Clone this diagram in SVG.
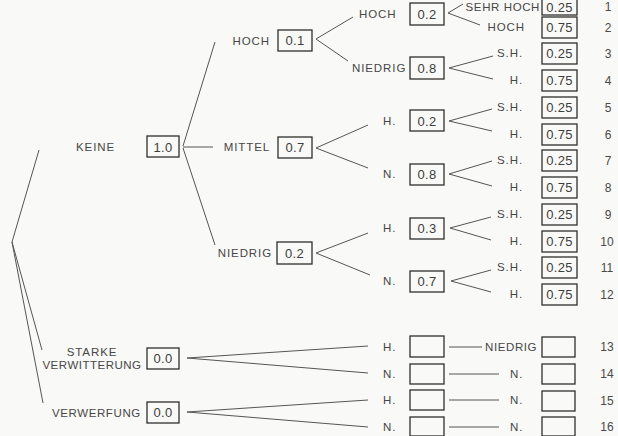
<svg xmlns="http://www.w3.org/2000/svg" width="618" height="436" viewBox="0 0 618 436">
<style>
.bg{fill:#f9f9f7}
.lbl{font-family:"Liberation Sans",Arial,sans-serif;font-size:11.5px;letter-spacing:0.9px;fill:#474747}
.num{font-family:"Liberation Sans",Arial,sans-serif;font-size:13px;letter-spacing:0.3px;fill:#3d3d3d;text-anchor:middle}
.idx{font-family:"Liberation Sans",Arial,sans-serif;font-size:12px;fill:#4a4a4a;text-anchor:middle}
.box{fill:none;stroke:#2e2e2e;stroke-width:1.3}
.ln{fill:none;stroke:#555;stroke-width:1}
.end{text-anchor:end}
.mid{text-anchor:middle}
</style>
<rect class="bg" x="0" y="0" width="618" height="436"/>

<g id="connectors">
  <path class="ln" d="M39,150 L12,242 L42,350 M12,242 L43,403"/>
  <path class="ln" d="M183,146 L215,42 M183,147 L213,147 M183,148 L215,245"/>
  <path class="ln" d="M353,17 L316,39 L348,61"/>
  <path class="ln" d="M368,125 L316,148 L368,168"/>
  <path class="ln" d="M368,233 L316,253 L370,275"/>
  <path class="ln" d="M463,4 L448,13 L480,25"/>
  <path class="ln" d="M493,56 L449,68 L493,79"/>
  <path class="ln" d="M492,109 L449,121 L492,131"/>
  <path class="ln" d="M492,161 L449,174 L492,186"/>
  <path class="ln" d="M491,217 L450,228 L491,240"/>
  <path class="ln" d="M491,270 L451,281 L491,292"/>
  <path class="ln" d="M368,346 L187,358 L368,373"/>
  <path class="ln" d="M368,400 L187,412 L368,427"/>
  <path class="ln" d="M449,347 H482 M449,374 H499 M449,400 H499 M449,427 H499"/>
</g>

<g id="n-keine">
  <text class="lbl" x="76" y="151">KEINE</text>
  <rect class="box" x="147" y="136" width="32" height="21"/>
  <text class="num" x="163" y="152">1.0</text>
</g>
<g id="n-starke">
  <text class="lbl mid" x="92" y="356">STARKE</text>
  <text class="lbl mid" x="92" y="369" style="letter-spacing:0.5px">VERWITTERUNG</text>
  <rect class="box" x="147" y="348" width="32" height="21"/>
  <text class="num" x="163" y="363">0.0</text>
</g>
<g id="n-verwerfung">
  <text class="lbl" x="52" y="417" style="letter-spacing:0.6px">VERWERFUNG</text>
  <rect class="box" x="147" y="402" width="32" height="21"/>
  <text class="num" x="163" y="417">0.0</text>
</g>

<g id="n-hoch">
  <text class="lbl end" x="270" y="45">HOCH</text>
  <rect class="box" x="278" y="30" width="34" height="21"/>
  <text class="num" x="295" y="45">0.1</text>
</g>
<g id="n-mittel">
  <text class="lbl end" x="270" y="151">MITTEL</text>
  <rect class="box" x="278" y="137" width="34" height="21"/>
  <text class="num" x="295" y="152">0.7</text>
</g>
<g id="n-niedrig">
  <text class="lbl end" x="272" y="257">NIEDRIG</text>
  <rect class="box" x="277" y="242" width="35" height="22"/>
  <text class="num" x="294.5" y="258">0.2</text>
</g>

<g id="n-hoch-hoch">
  <text class="lbl" x="359" y="18">HOCH</text>
  <rect class="box" x="410" y="3" width="34" height="22"/>
  <text class="num" x="427" y="19">0.2</text>
</g>
<g id="n-hoch-niedrig">
  <text class="lbl" x="352" y="72">NIEDRIG</text>
  <rect class="box" x="410" y="57" width="34" height="22"/>
  <text class="num" x="427" y="73">0.8</text>
</g>
<g id="n-mittel-h">
  <text class="lbl" x="383" y="125">H.</text>
  <rect class="box" x="410" y="110" width="34" height="21"/>
  <text class="num" x="427" y="126">0.2</text>
</g>
<g id="n-mittel-n">
  <text class="lbl" x="383" y="178">N.</text>
  <rect class="box" x="410" y="164" width="34" height="21"/>
  <text class="num" x="427" y="179">0.8</text>
</g>
<g id="n-niedrig-h">
  <text class="lbl" x="383" y="232">H.</text>
  <rect class="box" x="410" y="218" width="34" height="21"/>
  <text class="num" x="427" y="233">0.3</text>
</g>
<g id="n-niedrig-n">
  <text class="lbl" x="383" y="285">N.</text>
  <rect class="box" x="410" y="271" width="34" height="21"/>
  <text class="num" x="427" y="286">0.7</text>
</g>
<g id="n-starke-h">
  <text class="lbl" x="383" y="351">H.</text>
  <rect class="box" x="410" y="336" width="34" height="21"/>
</g>
<g id="n-starke-n">
  <text class="lbl" x="383" y="378">N.</text>
  <rect class="box" x="410" y="364" width="34" height="20"/>
</g>
<g id="n-verw-h">
  <text class="lbl" x="383" y="404">H.</text>
  <rect class="box" x="410" y="390" width="34" height="20"/>
</g>
<g id="n-verw-n">
  <text class="lbl" x="383" y="431">N.</text>
  <rect class="box" x="410" y="417" width="34" height="19"/>
</g>

<g id="r1">
  <text class="lbl end" x="540" y="11" style="letter-spacing:0.6px">SEHR HOCH</text>
  <rect class="box" x="542" y="-3" width="35" height="18"/>
  <text class="num" x="559.5" y="12">0.25</text>
  <text class="idx" x="608" y="11">1</text>
</g>
<g id="r2">
  <text class="lbl end" x="525" y="31">HOCH</text>
  <rect class="box" x="542" y="17" width="35" height="21"/>
  <text class="num" x="559.5" y="32">0.75</text>
  <text class="idx" x="608" y="32">2</text>
</g>
<g id="r3">
  <text class="lbl end" x="523" y="57">S.H.</text>
  <rect class="box" x="542" y="43" width="35" height="21"/>
  <text class="num" x="559.5" y="58">0.25</text>
  <text class="idx" x="608" y="58">3</text>
</g>
<g id="r4">
  <text class="lbl end" x="523" y="84">H.</text>
  <rect class="box" x="542" y="70" width="35" height="21"/>
  <text class="num" x="559.5" y="85">0.75</text>
  <text class="idx" x="608" y="85">4</text>
</g>
<g id="r5">
  <text class="lbl end" x="523" y="111">S.H.</text>
  <rect class="box" x="542" y="97" width="35" height="21"/>
  <text class="num" x="559.5" y="112">0.25</text>
  <text class="idx" x="608" y="112">5</text>
</g>
<g id="r6">
  <text class="lbl end" x="523" y="138">H.</text>
  <rect class="box" x="542" y="124" width="35" height="21"/>
  <text class="num" x="559.5" y="139">0.75</text>
  <text class="idx" x="608" y="139">6</text>
</g>
<g id="r7">
  <text class="lbl end" x="523" y="164">S.H.</text>
  <rect class="box" x="542" y="150" width="35" height="21"/>
  <text class="num" x="559.5" y="165">0.25</text>
  <text class="idx" x="608" y="165">7</text>
</g>
<g id="r8">
  <text class="lbl end" x="523" y="191">H.</text>
  <rect class="box" x="542" y="177" width="35" height="21"/>
  <text class="num" x="559.5" y="192">0.75</text>
  <text class="idx" x="608" y="192">8</text>
</g>
<g id="r9">
  <text class="lbl end" x="523" y="218">S.H.</text>
  <rect class="box" x="542" y="204" width="35" height="21"/>
  <text class="num" x="559.5" y="219">0.25</text>
  <text class="idx" x="608" y="219">9</text>
</g>
<g id="r10">
  <text class="lbl end" x="523" y="245">H.</text>
  <rect class="box" x="542" y="231" width="35" height="21"/>
  <text class="num" x="559.5" y="246">0.75</text>
  <text class="idx" x="607" y="246">10</text>
</g>
<g id="r11">
  <text class="lbl end" x="523" y="271">S.H.</text>
  <rect class="box" x="542" y="257" width="35" height="21"/>
  <text class="num" x="559.5" y="272">0.25</text>
  <text class="idx" x="607" y="272">11</text>
</g>
<g id="r12">
  <text class="lbl end" x="523" y="298">H.</text>
  <rect class="box" x="542" y="284" width="35" height="21"/>
  <text class="num" x="559.5" y="299">0.75</text>
  <text class="idx" x="607" y="299">12</text>
</g>
<g id="r13">
  <text class="lbl" x="485" y="351" style="letter-spacing:0.6px">NIEDRIG</text>
  <rect class="box" x="542" y="337" width="33" height="20"/>
  <text class="idx" x="607" y="351">13</text>
</g>
<g id="r14">
  <text class="lbl" x="510" y="378">N.</text>
  <rect class="box" x="542" y="364" width="33" height="20"/>
  <text class="idx" x="607" y="378">14</text>
</g>
<g id="r15">
  <text class="lbl" x="510" y="404">N.</text>
  <rect class="box" x="542" y="391" width="33" height="20"/>
  <text class="idx" x="607" y="405">15</text>
</g>
<g id="r16">
  <text class="lbl" x="510" y="431">N.</text>
  <rect class="box" x="542" y="417" width="33" height="19"/>
  <text class="idx" x="607" y="431">16</text>
</g>
</svg>
